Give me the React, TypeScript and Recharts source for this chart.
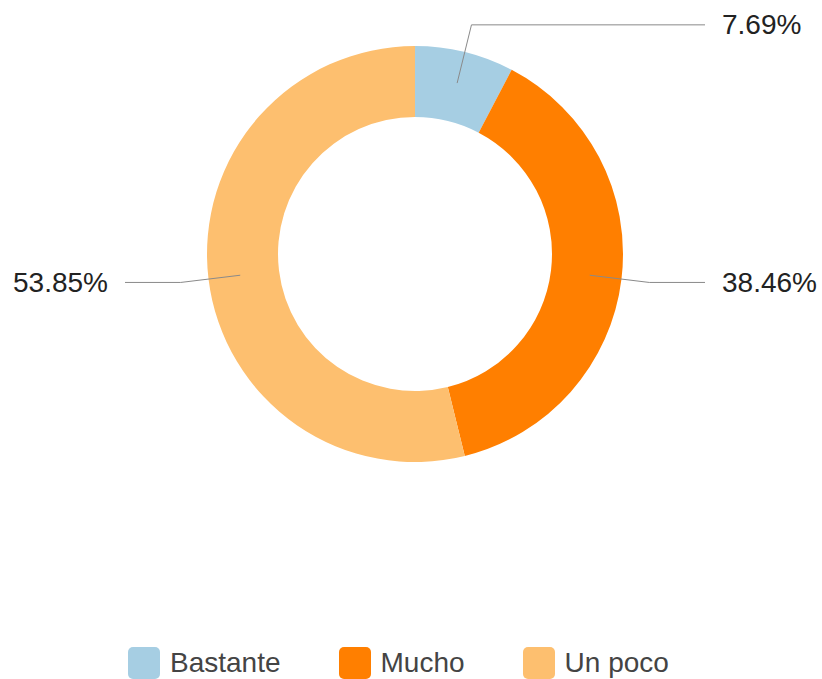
import { PieChart, Pie, Cell, Legend } from "recharts";

const categories = ["Bastante", "Mucho", "Un poco"];
const counts = [1, 5, 7];
const colors = ["#a6cee3", "#ff7f00", "#fdbf6f"];

const data = categories.map((name, i) => ({ name, value: counts[i] }));

const RADIAN = Math.PI / 180;
const FONT = "Arial, 'Liberation Sans', sans-serif";

function renderLabel(props: any) {
  const { cx, cy, midAngle, innerRadius, outerRadius, percent } = props;
  const cos = Math.cos(-midAngle * RADIAN);
  const sin = Math.sin(-midAngle * RADIAN);
  const r0 = innerRadius + (outerRadius - innerRadius) * 0.55;
  const r1 = outerRadius + 28;
  const sx = cx + r0 * cos;
  const sy = cy + r0 * sin;
  const mx = cx + r1 * cos;
  const my = cy + r1 * sin;
  const right = cos >= 0;
  const ex = right ? cx + 290 : cx - 290;
  const tx = right ? ex + 17 : ex - 17;

  return (
    <g>
      <path
        d={`M${sx},${sy}L${mx},${my}L${ex},${my}`}
        stroke="#8a8a8a"
        strokeWidth={1}
        fill="none"
      />
      <text
        x={tx}
        y={my}
        textAnchor={right ? "start" : "end"}
        dominantBaseline="central"
        fill="#222"
        fontSize={28}
        fontFamily={FONT}
      >
        {`${(percent * 100).toFixed(2)}%`}
      </text>
    </g>
  );
}

function renderLegend(props: any) {
  const { payload } = props;
  return (
    <div style={{ display: "flex", alignItems: "center", fontFamily: FONT }}>
      {payload.map((entry: any) => (
        <div
          key={entry.value}
          style={{ display: "flex", alignItems: "center", marginRight: 58 }}
        >
          <span
            style={{
              width: 32,
              height: 32,
              borderRadius: 5,
              background: entry.color,
              display: "inline-block",
              marginRight: 10
            }}
          />
          <span style={{ fontSize: 28, color: "#444" }}>{entry.value}</span>
        </div>
      ))}
    </div>
  );
}

export default function App() {
  return (
    <div style={{ position: "absolute", left: 0, top: 0, width: 822, height: 679, background: "#fff" }}>
      <PieChart width={822} height={679}>
        <Pie
          data={data}
          dataKey="value"
          nameKey="name"
          cx={410}
          cy={249}
          innerRadius={137}
          outerRadius={208}
          startAngle={90}
          endAngle={-270}
          stroke="none"
          label={renderLabel}
          labelLine={false}
          isAnimationActive={false}
        >
          {data.map((d, i) => (
            <Cell key={d.name} fill={colors[i]} />
          ))}
        </Pie>
        <Legend
          content={renderLegend}
          wrapperStyle={{ left: 128, top: 647, bottom: "auto", width: "auto" }}
        />
      </PieChart>
    </div>
  );
}
